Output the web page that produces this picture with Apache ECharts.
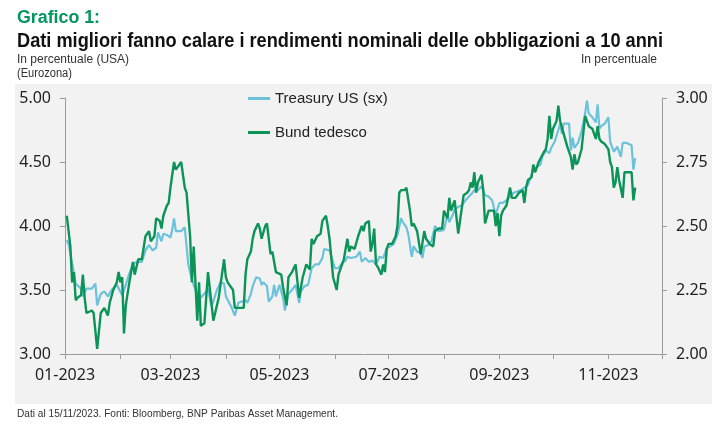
<!DOCTYPE html>
<html>
<head>
<meta charset="utf-8">
<script src="https://cdn.jsdelivr.net/npm/echarts@6/dist/echarts.min.js"></script>
<style>
  html, body { margin: 0; padding: 0; background: #fff; }
  #chart { width: 725px; height: 431px; }
</style>
</head>
<body>
<div id="chart"></div>
<script>
const YEAR = 2023;

// Treasury US 10 anni (asse sinistro)
const usDates = ['01-02','01-03','01-05','01-06','01-07','01-08','01-10','01-11','01-13','01-16',
  '01-18','01-19','01-21','01-23','01-25','01-27','01-30','01-31','02-02','02-04',
  '02-06','02-08','02-10','02-13','02-15','02-17','02-19','02-21','02-22','02-24',
  '02-25','02-27','03-01','03-02','03-03','03-04','03-07','03-09','03-11','03-13',
  '03-15','03-17','03-18','03-20','03-22','03-24','03-27','03-29','03-31','04-01',
  '04-04','04-06','04-07','04-08','04-10','04-12','04-13','04-15','04-16','04-18',
  '04-20','04-21','04-22','04-24','04-25','04-27','04-28','04-29','05-01','05-03',
  '05-04','05-06','05-08','05-10','05-12','05-13','05-15','05-17','05-19','05-21',
  '05-23','05-25','05-26','05-29','06-01','06-03','06-05','06-07','06-08','06-10',
  '06-13','06-15','06-16','06-18','06-20','06-22','06-24','06-26','06-28','06-30',
  '07-02','07-04','07-06','07-08','07-09','07-11','07-12','07-14','07-15','07-17',
  '07-19','07-20','07-21','07-23','07-25','07-27','07-29','08-01','08-03','08-04',
  '08-06','08-07','08-09','08-11','08-13','08-15','08-17','08-18','08-20','08-22',
  '08-24','08-26','08-28','08-29','08-30','09-01','09-03','09-05','09-07','09-09',
  '09-11','09-13','09-14','09-17','09-18','09-20','09-22','09-24','09-25','09-27',
  '09-29','09-30','10-02','10-04','10-05','10-06','10-07','10-10','10-11','10-12',
  '10-13','10-15','10-17','10-19','10-20','10-21','10-23','10-25','10-26','10-27',
  '10-28','10-30','11-01','11-02','11-04','11-06','11-08','11-09','11-11','11-14',
  '11-15','11-16'];
const usYields = [3.89,3.86,3.71,3.72,3.55,3.54,3.51,3.45,3.51,3.51,
  3.55,3.38,3.47,3.49,3.45,3.50,3.54,3.53,3.46,3.54,
  3.63,3.70,3.72,3.72,3.81,3.85,3.81,3.83,3.95,3.88,
  3.94,3.93,3.91,3.97,4.06,3.96,3.96,3.99,3.70,3.58,
  3.50,3.47,3.44,3.47,3.51,3.37,3.50,3.56,3.55,3.45,
  3.37,3.30,3.30,3.40,3.41,3.42,3.40,3.47,3.53,3.60,
  3.59,3.54,3.56,3.53,3.41,3.45,3.54,3.45,3.54,3.44,
  3.34,3.47,3.50,3.54,3.40,3.49,3.53,3.54,3.67,3.70,
  3.70,3.75,3.82,3.81,3.67,3.67,3.71,3.73,3.76,3.75,
  3.76,3.80,3.72,3.75,3.72,3.73,3.70,3.76,3.75,3.83,
  3.84,3.86,3.93,4.06,4.03,3.99,3.94,3.76,3.84,3.80,
  3.79,3.75,3.84,3.85,3.88,4.00,3.96,3.97,4.09,4.03,
  4.09,4.13,4.15,4.16,4.20,4.23,4.26,4.28,4.28,4.31,
  4.24,4.23,4.20,4.14,4.09,4.18,4.18,4.20,4.23,4.26,
  4.27,4.28,4.29,4.32,4.31,4.44,4.46,4.48,4.54,4.59,
  4.57,4.61,4.66,4.75,4.80,4.72,4.80,4.80,4.59,4.69,
  4.61,4.65,4.74,4.88,4.98,4.88,4.85,4.81,4.95,4.76,
  4.78,4.80,4.85,4.66,4.58,4.62,4.54,4.65,4.65,4.63,
  4.44,4.53];

// Bund tedesco 10 anni (asse destro)
const bundDates = ['01-02','01-04','01-05','01-06','01-07','01-08','01-10','01-11','01-12','01-13',
  '01-16','01-17','01-19','01-21','01-22','01-23','01-25','01-26','01-28','01-30',
  '01-31','02-01','02-02','02-03','02-04','02-06','02-08','02-09','02-11','02-13',
  '02-15','02-17','02-18','02-20','02-21','02-23','02-24','02-25','02-27','02-28',
  '03-01','03-03','03-04','03-07','03-09','03-10','03-12','03-13','03-14','03-16',
  '03-17','03-18','03-20','03-22','03-25','03-28','03-31','04-01','04-02','04-05',
  '04-06','04-11','04-12','04-13','04-15','04-16','04-17','04-19','04-20','04-21',
  '04-23','04-24','04-26','04-27','04-29','05-02','05-03','05-05','05-06','05-08',
  '05-10','05-12','05-13','05-14','05-16','05-18','05-19','05-20','05-22','05-24',
  '05-25','05-27','05-28','05-29','05-31','06-02','06-03','06-06','06-08','06-09',
  '06-10','06-12','06-14','06-16','06-17','06-18','06-20','06-21','06-22','06-23',
  '06-24','06-25','06-27','06-28','06-29','06-30','07-01','07-03','07-05','07-06',
  '07-07','07-08','07-10','07-11','07-13','07-14','07-15','07-17','07-19','07-21',
  '07-22','07-24','07-26','07-27','07-29','07-31','08-01','08-03','08-04','08-05',
  '08-06','08-07','08-09','08-10','08-12','08-14','08-15','08-16','08-17','08-18',
  '08-19','08-20','08-22','08-23','08-24','08-25','08-26','08-29','08-30','08-31',
  '09-01','09-02','09-03','09-05','09-07','09-08','09-10','09-12','09-14','09-15',
  '09-16','09-17','09-19','09-20','09-21','09-22','09-23','09-26','09-27','09-28',
  '09-29','09-30','10-01','10-03','10-04','10-05','10-07','10-09','10-11','10-12',
  '10-13','10-14','10-15','10-17','10-19','10-20','10-21','10-23','10-25','10-26',
  '10-27','10-28','10-30','11-01','11-02','11-03','11-04','11-05','11-06','11-07',
  '11-09','11-10','11-12','11-14','11-15','11-16'];
const bundYields = [2.54,2.42,2.28,2.32,2.21,2.22,2.23,2.31,2.22,2.16,
  2.17,2.16,2.02,2.16,2.17,2.18,2.15,2.20,2.25,2.28,
  2.32,2.28,2.30,2.08,2.19,2.28,2.36,2.31,2.37,2.37,
  2.46,2.48,2.44,2.46,2.53,2.52,2.49,2.54,2.58,2.59,
  2.65,2.75,2.72,2.75,2.65,2.63,2.46,2.28,2.42,2.13,
  2.28,2.11,2.12,2.32,2.13,2.22,2.37,2.30,2.28,2.25,
  2.18,2.18,2.31,2.37,2.40,2.45,2.48,2.51,2.49,2.45,
  2.50,2.51,2.39,2.40,2.32,2.31,2.26,2.19,2.30,2.32,
  2.35,2.22,2.26,2.30,2.35,2.33,2.45,2.43,2.46,2.47,
  2.52,2.54,2.50,2.45,2.30,2.25,2.31,2.37,2.45,2.40,
  2.42,2.41,2.46,2.50,2.48,2.51,2.52,2.40,2.43,2.49,
  2.35,2.34,2.31,2.35,2.32,2.41,2.43,2.43,2.46,2.50,
  2.63,2.64,2.64,2.65,2.56,2.50,2.51,2.48,2.39,2.48,
  2.45,2.43,2.42,2.48,2.49,2.49,2.56,2.53,2.61,2.56,
  2.58,2.60,2.47,2.52,2.62,2.63,2.64,2.67,2.65,2.71,
  2.63,2.67,2.70,2.64,2.51,2.51,2.56,2.56,2.50,2.55,
  2.46,2.54,2.56,2.58,2.65,2.61,2.61,2.63,2.64,2.59,
  2.65,2.68,2.69,2.74,2.71,2.73,2.75,2.79,2.80,2.84,
  2.93,2.84,2.88,2.91,2.97,2.91,2.86,2.81,2.77,2.72,
  2.78,2.74,2.75,2.80,2.93,2.93,2.89,2.88,2.84,2.89,
  2.84,2.83,2.82,2.80,2.75,2.73,2.65,2.67,2.73,2.68,
  2.61,2.71,2.71,2.71,2.60,2.65];

// inizio mese: tacche su ogni mese, etichette sui mesi dispari
const monthStarts = ['01','02','03','04','05','06','07','08','09','10','11','12'];

const TXTFONT = '"Liberation Sans", sans-serif';
const AXISFONT = '"Noto Sans", sans-serif';

function toTime(md) {
  const p = md.split('-');
  return new Date(YEAR, Number(p[0]) - 1, Number(p[1])).getTime();
}
function pairs(dates, values) {
  return dates.map((d, i) => [toTime(d), values[i]]);
}

// il font originale è condensato: stringo il testo alla larghezza voluta
const measureCtx = document.createElement('canvas').getContext('2d');
function fitText(text, font, width, extra) {
  measureCtx.font = font;
  const w = measureCtx.measureText(text).width;
  return Object.assign({
    type: 'text', silent: true, scaleX: Math.min(1, width / w),
    style: { text: text, font: font, fill: '#333', textVerticalAlign: 'top' }
  }, extra);
}

const tickValues = monthStarts.map(m => toTime(m + '-01'));
const labelValues = tickValues.filter((t, i) => i % 2 === 0);

const chart = echarts.init(document.getElementById('chart'));

const titleEl = fitText('Dati migliori fanno calare i rendimenti nominali delle obbligazioni a 10 anni',
  'bold 20px ' + TXTFONT, 646, { x: 17, y: 31 });
titleEl.style.fill = '#111';
const kickerEl = fitText('Grafico 1:', 'bold 18px ' + TXTFONT, 83, { x: 17, y: 9 });
kickerEl.style.fill = '#00965e';
const rightUnit = fitText('In percentuale', '12px ' + TXTFONT, 79, { x: 657, y: 54 });
rightUnit.style.textAlign = 'right';

const option = {
  backgroundColor: '#ffffff',
  animation: false,
  graphic: [
    {
      type: 'rect', z: -100, silent: true,
      shape: { x: 15, y: 84, width: 697, height: 320 },
      style: { fill: '#f2f2f2' }
    },
    kickerEl,
    titleEl,
    fitText('In percentuale (USA)', '12px ' + TXTFONT, 113, { x: 17, y: 54 }),
    fitText('(Eurozona)', '12px ' + TXTFONT, 55, { x: 17, y: 68 }),
    rightUnit,
    fitText('Dati al 15/11/2023. Fonti: Bloomberg, BNP Paribas Asset Management.', '11px ' + TXTFONT, 321, { x: 17, y: 408 })
  ],
  legend: {
    orient: 'vertical', left: 243, top: 86, itemGap: 19,
    itemWidth: 22, itemHeight: 3, icon: 'rect',
    textStyle: { fontFamily: TXTFONT, fontSize: 15, color: '#222' },
    data: ['Treasury US (sx)', 'Bund tedesco']
  },
  grid: { left: 65, right: 63, top: 98, bottom: 77 },
  xAxis: {
    type: 'value',
    min: tickValues[0],
    max: tickValues[tickValues.length - 1],
    axisLine: { lineStyle: { color: '#9a9a9a', width: 1 } },
    axisTick: { customValues: tickValues, length: 5, lineStyle: { color: '#9a9a9a' } },
    axisLabel: {
      customValues: labelValues,
      margin: 13,
      fontFamily: AXISFONT, fontSize: 16, color: '#222',
      formatter: v => {
        const d = new Date(v);
        return String(d.getMonth() + 1).padStart(2, '0') + '-' + d.getFullYear();
      }
    },
    splitLine: { show: false }
  },
  yAxis: [
    {
      type: 'value', min: 3, max: 5, interval: 0.5, position: 'left',
      axisLine: { show: true, lineStyle: { color: '#9a9a9a' } },
      axisTick: { show: true, length: 5, lineStyle: { color: '#9a9a9a' } },
      axisLabel: { margin: 14, fontFamily: AXISFONT, fontSize: 16, color: '#222', formatter: v => v.toFixed(2) },
      splitLine: { show: false }
    },
    {
      type: 'value', min: 2, max: 3, interval: 0.25, position: 'right',
      axisLine: { show: true, lineStyle: { color: '#9a9a9a' } },
      axisTick: { show: true, length: 5, lineStyle: { color: '#9a9a9a' } },
      axisLabel: { margin: 14, fontFamily: AXISFONT, fontSize: 16, color: '#222', formatter: v => v.toFixed(2) },
      splitLine: { show: false }
    }
  ],
  series: [
    {
      name: 'Treasury US (sx)', type: 'line', yAxisIndex: 0,
      showSymbol: false, symbol: 'none',
      color: '#6cc2da',
      lineStyle: { width: 2.2, color: '#6cc2da' },
      data: pairs(usDates, usYields)
    },
    {
      name: 'Bund tedesco', type: 'line', yAxisIndex: 1,
      showSymbol: false, symbol: 'none',
      color: '#0c9458',
      lineStyle: { width: 2.4, color: '#0c9458' },
      data: pairs(bundDates, bundYields)
    }
  ]
};

chart.setOption(option);
</script>
</body>
</html>
